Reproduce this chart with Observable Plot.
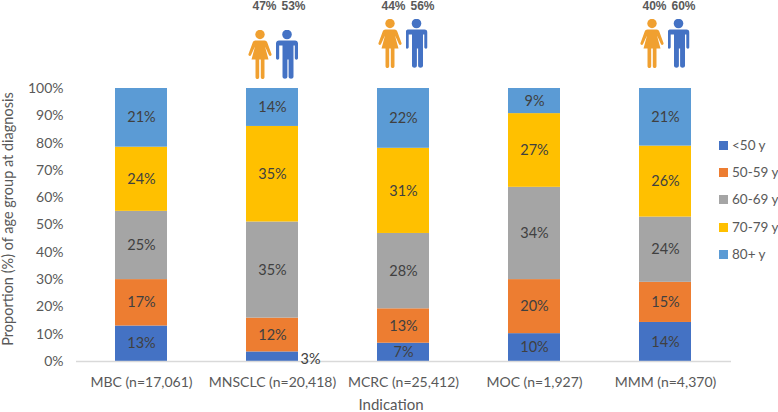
<!DOCTYPE html>
<html><head><meta charset="utf-8">
<script src="https://cdn.jsdelivr.net/npm/d3@7"></script>
<script src="https://cdn.jsdelivr.net/npm/@observablehq/plot@0.6"></script>
<style>
html,body{margin:0;padding:0;background:#fff}
svg{display:block}
#wrap{position:relative;width:778px;height:412px;overflow:hidden}
#legend{position:absolute;left:719px;top:131.500px;font:13.500px Lato,sans-serif;color:#595959}
#legend div{height:27.400px;line-height:27.400px;white-space:nowrap}
#legend i{display:inline-block;width:9px;height:9px;margin-right:4px}
</style>
</head><body><div id="wrap"><div id="chart"></div><div id="legend"></div></div>
<script>
const indications = ["MBC (n=17,061)","MNSCLC (n=20,418)","MCRC (n=25,412)","MOC (n=1,927)","MMM (n=4,370)"];
const ageGroups = ["<50 y","50-59 y","60-69 y","70-79 y","80+ y"];
const ageColors = ["#4472c4","#ed7d31","#a5a5a5","#ffc000","#5b9bd5"];
const under50 = [13,3.5,6.7,10.2,14.3];
const from50 = [17,12.4,12.6,19.8,14.7];
const from60 = [25,35.2,27.6,33.8,23.9];
const from70 = [23.5,35,31.2,27,26];
const over80 = [21.5,13.9,21.9,9.2,21.1];
const labelsUnder50 = ["13%","3%","7%","10%","14%"];
const labelsFrom50 = ["17%","12%","13%","20%","15%"];
const labelsFrom60 = ["25%","35%","28%","34%","24%"];
const labelsFrom70 = ["24%","35%","31%","27%","26%"];
const labelsOver80 = ["21%","14%","22%","9%","21%"];
const sexIndications = ["MNSCLC (n=20,418)","MCRC (n=25,412)","MMM (n=4,370)"];
const femaleShare = ["47%","44%","40%"];
const maleShare = ["53%","56%","60%"];
const yTicks = [0,.1,.2,.3,.4,.5,.6,.7,.8,.9,1];

const series = [under50,from50,from60,from70,over80];
const labels = [labelsUnder50,labelsFrom50,labelsFrom60,labelsFrom70,labelsOver80];
const rows = [];
indications.forEach((ind,i)=>{
  let sum = 0;
  ageGroups.forEach((g,j)=>{
    const v = series[j][i];
    rows.push({ind,g,start:sum/100,end:(sum+v)/100,label:labels[j][i]});
    sum += v;
  });
});
const svgUri = s => "data:image/svg+xml;utf8,"+encodeURIComponent(s);
const femaleIcon = svgUri(`<svg xmlns="http://www.w3.org/2000/svg" viewBox="0 0 24 50"><g fill="#f0a030"><circle cx="12" cy="5" r="4.700"/><path d="M7.500 11h9c1.500 0 2.300.8 2.800 2l4.200 11.500c.6 1.900-1.900 2.800-2.600 1L17 17l3.500 13H16.500v17.500c0 2.800-3.700 2.800-3.700 0V30h-1.600v17.500c0 2.800-3.700 2.800-3.700 0V30H3.500L7 17 3.100 25.500c-.7 1.800-3.200.9-2.600-1L4.700 13c.5-1.200 1.300-2 2.800-2z"/></g></svg>`);
const maleIcon = svgUri(`<svg xmlns="http://www.w3.org/2000/svg" viewBox="0 0 22 50"><g fill="#4472c4"><circle cx="11" cy="5" r="4.800"/><path d="M3 11h16c1.700 0 3 1.300 3 3v14.500c0 2.200-3.200 2.200-3.200 0V16h-1.300v31c0 3-4.900 3-4.900 0V30h-1.200v17c0 3-4.900 3-4.900 0V16H3.200v12.500c0 2.200-3.200 2.200-3.200 0V14c0-1.700 1.300-3 3-3z"/></g></svg>`);

const sexLayout = [
  {fIcon:-12.500,mIcon:14.500,fText:-8,mText:21,iconDy:-34},
  {fIcon:-13.500,mIcon:13,fText:-10,mText:19,iconDy:-45},
  {fIcon:-13.500,mIcon:13,fText:-11,mText:18,iconDy:-45}
];
const sexMarks = sexIndications.flatMap((ind,i)=>{
  const L = sexLayout[i], d = [ind];
  const t = {x:d=>d,frameAnchor:"top",lineAnchor:"middle",dy:-82,fontFamily:"'Liberation Sans Narrow','Liberation Sans',sans-serif",fontWeight:700,fontSize:12,fill:"#595959"};
  return [
    Plot.text(d,{...t,text:()=>femaleShare[i],dx:L.fText}),
    Plot.text(d,{...t,text:()=>maleShare[i],dx:L.mText}),
    Plot.image(d,{x:d=>d,frameAnchor:"top",src:()=>femaleIcon,width:24,height:50,dx:L.fIcon,dy:L.iconDy}),
    Plot.image(d,{x:d=>d,frameAnchor:"top",src:()=>maleIcon,width:22,height:50,dx:L.mIcon,dy:L.iconDy})
  ];
});

const chart = Plot.plot({
  width:778, height:412,
  marginLeft:76, marginRight:47, marginTop:88, marginBottom:51,
  style:{fontFamily:"Lato, sans-serif", background:"#fff", overflow:"visible"},
  x:{domain:indications, paddingInner:0.6, paddingOuter:0.3, label:null},
  y:{domain:[0,1], label:null},
  color:{domain:ageGroups, range:ageColors},
  marks:[
    Plot.barY(rows,{x:"ind",y1:"start",y2:"end",fill:"g"}),
    Plot.ruleY([0],{stroke:"#d9d9d9",strokeWidth:1.500}),
    Plot.axisY({ticks:yTicks,tickFormat:d=>Math.round(d*100)+"%",tickSize:0,tickPadding:13,fontSize:14,color:"#595959",label:null}),
    Plot.axisX({tickSize:0,tickPadding:16,fontSize:14,color:"#595959",label:null}),
    Plot.text(rows.filter(d=>d.label!=="3%"),{x:"ind",y:d=>(d.start+d.end)/2,text:"label",fontSize:14.500,fill:"#404040"}),
    Plot.text(rows.filter(d=>d.label==="3%"),{x:"ind",y:0,text:"label",fontSize:14.500,fill:"#404040",dx:38,dy:-2}),
    Plot.text(["Indication"],{frameAnchor:"bottom",lineAnchor:"middle",dx:-13,dy:44,fontSize:15,fill:"#595959"}),
    Plot.text(["Proportion (%) of age group at diagnosis"],{frameAnchor:"left",textAnchor:"middle",lineAnchor:"middle",rotate:-90,dx:-68,dy:-6,fontSize:14.500,fill:"#595959"}),
    ...sexMarks
  ]
});
document.getElementById("chart").appendChild(chart);
const legend = d3.select("#legend");
ageGroups.forEach((g,i)=>{
  const row = legend.append("div");
  row.append("i").style("background",ageColors[i]);
  row.append("span").text(g);
});
</script></body></html>
